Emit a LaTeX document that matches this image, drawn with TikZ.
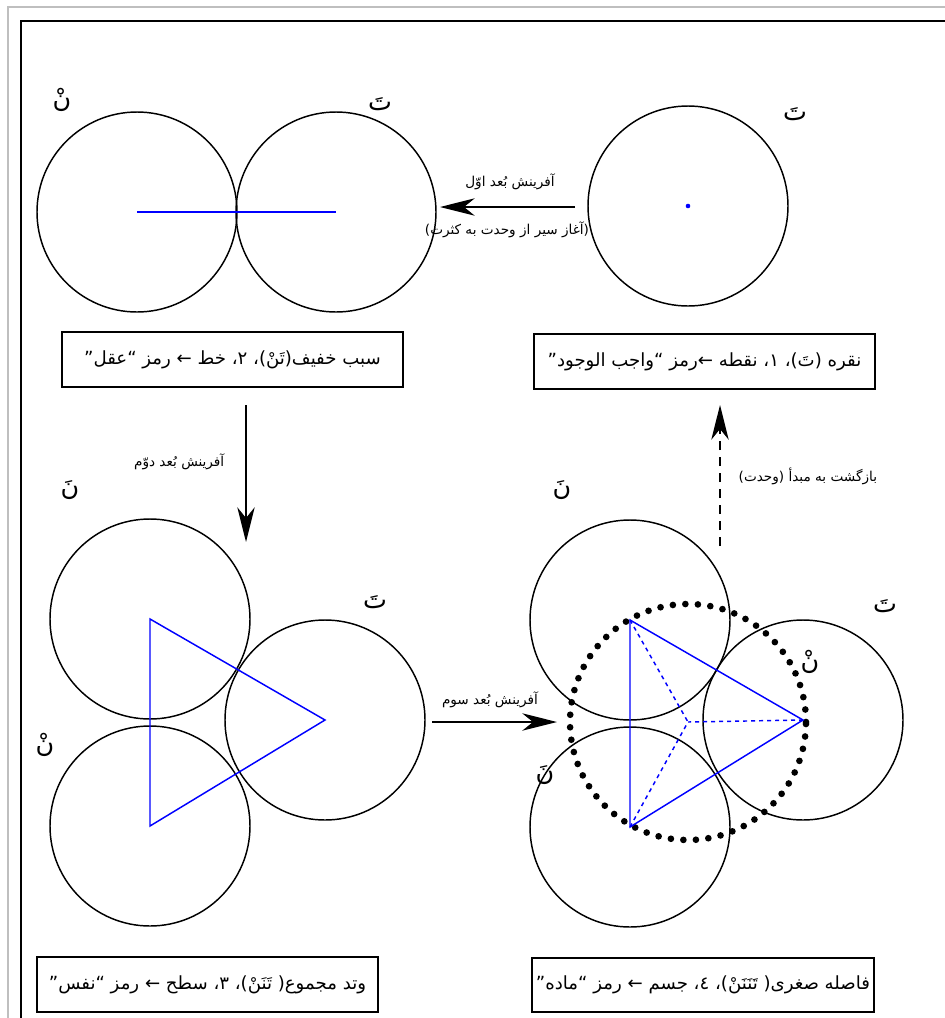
\documentclass[tikz,border=0pt]{standalone}
\usepackage{fontspec}
\newfontfamily\arabicfont[Script=Arabic]{DejaVu Sans}
\TeXXeTstate=1
\usetikzlibrary{arrows.meta,positioning}
\newcommand{\pers}[1]{{\arabicfont\beginR #1\endR}}

\begin{document}
\begin{tikzpicture}[
  x=0.75pt, y=-0.75pt,
  ball/.style={draw, circle, minimum size=150pt, inner sep=0pt, line width=1.1pt},
  capbox/.style={draw, line width=1.5pt, minimum width=256pt, minimum height=41pt, inner sep=0pt, font=\fontsize{13.6}{16}\selectfont},
  letter/.style={font=\fontsize{19}{21}\selectfont},
  note/.style={font=\fontsize{10.2}{12}\selectfont},
  arrow/.style={-{Stealth[length=26pt, width=13pt, inset=8pt]}, line width=1.8pt},
  edge/.style={blue, line width=1.1pt}
]
\useasboundingbox (0,0) rectangle (945,1018);
\draw[black!25, line width=1.1pt] (8,7) rectangle (1000,1100);
\draw[line width=1.6pt] (21,21) rectangle (1000,1100);

% one dimension
\node[ball] (a) at (137,212) {};
\node[ball] (b) at (336,212) {};
\draw[edge] (a.center) -- (b.center);
\node[letter] (la) at (62,100) {\pers{نْ}};
\node[letter] (lb) at (380,104) {\pers{تَ}};

% the point
\node[ball] (c) at (688,206) {};
\fill[blue] (c.center) circle (2.3);
\node[letter] (lc) at (795,114) {\pers{تَ}};

\coordinate (a1s) at (575,207);
\coordinate (a1e) at (440,207);
\draw[arrow] (a1s) -- (a1e);
\node[note] (t1) at (510,182) {\pers{آفرینش بُعد اوّل}};
\node[note] (t1b) at (507,230) {\pers{(آغاز سیر از وحدت به کثرت)}};

\node[capbox] (box1) at (232.5,359.5) {\pers{سبب خفیف(تَنْ)، ٢، خط ← رمز “عقل”}};
\node[capbox] (box2) at (704.5,361.5) {\pers{نقره (تَ)، ١، نقطه ←رمز “واجب الوجود”}};

% down and back
\coordinate (a2s) at (246,405);
\coordinate (a2e) at (246,542);
\draw[arrow] (a2s) -- (a2e);
\node[note, anchor=east] (t2) at (229,462) {\pers{آفرینش بُعد دوّم}};

\coordinate (a4s) at (720,546);
\coordinate (a4e) at (720,405);
\draw[arrow, dash pattern=on 7pt off 5pt] (a4s) -- (a4e);
\node[note, anchor=west] (t4) at (734,476) {\pers{بازگشت به مبدأ (وحدت)}};

% two dimensions
\node[ball] (d) at (150,619) {};
\node[ball] (e) at (150,826) {};
\node[ball] (f) at (325,720) {};
\draw[edge] (d.center) -- (e.center) -- (f.center) -- cycle;
\node[letter] (ld) at (70,490) {\pers{نَ}};
\node[letter] (le) at (45,745) {\pers{نْ}};
\node[letter] (lf) at (375,602) {\pers{تَ}};

\coordinate (a3s) at (432,722);
\coordinate (a3e) at (557,722);
\draw[arrow] (a3s) -- (a3e);
\node[note] (t3) at (490,700) {\pers{آفرینش بُعد سوم}};

% three dimensions
\node[ball] (g) at (630,620) {};
\node[ball] (h) at (630,827) {};
\node[ball] (i) at (803,720) {};
\coordinate (o) at (688,722);
\node[circle, minimum size=177pt, inner sep=0pt, draw, line width=5pt, line cap=round, dash pattern=on 0pt off 9.4pt] (ring) at (o) {};
\draw[edge] (g.center) -- (h.center) -- (i.center) -- cycle;
\draw[edge, dashed] (g.center) -- (o);
\draw[edge, dashed] (h.center) -- (o);
\draw[edge, dashed] (i.center) -- (o);
\node[letter] (lg) at (562,490) {\pers{نَ}};
\node[letter] (lh) at (545,775) {\pers{نَ}};
\node[letter] (li) at (885,606) {\pers{تَ}};
\node[letter] (lo) at (810,662) {\pers{نْ}};

\node[capbox] (box3) at (207.5,984.5) {\pers{وتد مجموع( تَنَنْ)، ٣، سطح ← رمز “نفس”}};
\node[capbox] (box4) at (703,985) {\pers{فاصله صغری( تَنَنَنْ)، ٤، جسم ← رمز “ماده”}};
\end{tikzpicture}
\end{document}
